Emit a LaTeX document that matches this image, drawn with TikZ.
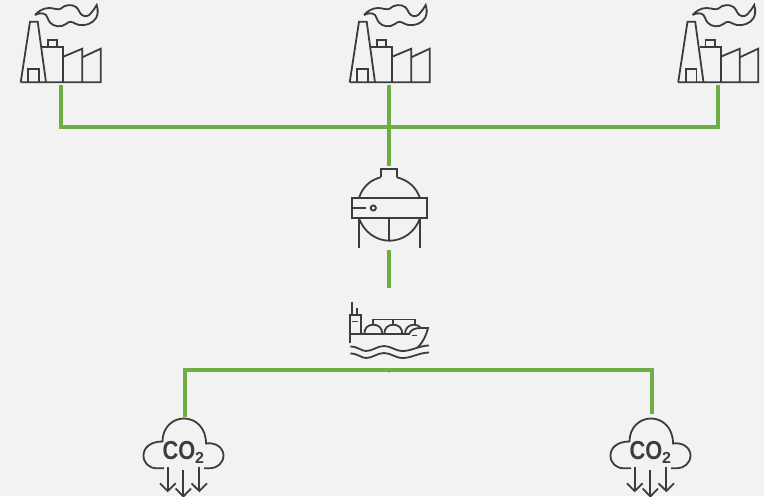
\documentclass[tikz,border=0pt]{standalone}
\usepackage{fontspec}
\setmainfont{Liberation Sans}
\definecolor{bgc}{HTML}{F2F2F2}
\definecolor{ink}{HTML}{3C3C3C}
\definecolor{pipe}{HTML}{6FAE46}
\tikzset{
  x=1pt,y=-1pt,
  icon/.style={draw=ink,line width=1.8pt,line join=miter,fill=none},
  pipeline/.style={draw=pipe,line width=4pt,line join=miter},
  anchorbox/.style={inner sep=0pt,outer sep=0pt,minimum width=80pt},
  factory/.pic={
    \begin{scope}[icon]
    \draw (20.7,82.3) -- (30,21.7) -- (37.7,21.7) -- (46,82.3);
    \draw (28.3,82.3) -- (28.3,69.3) -- (39,69.3) -- (39,82.3);
    \draw (20.7,82.3) -- (100.7,82.3) -- (100.7,48.7) -- (82.3,57.3);
    \draw (42.3,47) -- (63.3,47) -- (63.3,82.3);
    \draw (48,47) -- (48,39.7) -- (57.3,39.7) -- (57.3,47);
    \draw (63.3,56.7) -- (82.3,48.7) -- (82.3,82.3);
    \draw (35,15) .. controls (38,11.5) and (43,8) .. (49,8)
      .. controls (54,8) and (58,10.5) .. (61,8.5)
      .. controls (65,4.5) and (72,4) .. (76,7)
      .. controls (79,9) and (79,13) .. (82,15)
      .. controls (85,17.5) and (89,16) .. (91,13)
      .. controls (93,11) and (95,8) .. (96.7,5)
      .. controls (98.5,11) and (98.5,17) .. (93,21.5)
      .. controls (88,25.5) and (80,26.5) .. (75,23.5)
      .. controls (72,21.5) and (69,21) .. (66,24)
      .. controls (61,27.5) and (54,27) .. (50,22.5)
      .. controls (47.5,19.5) and (48,17) .. (46,15)
      .. controls (43,12.5) and (39,13) .. (35,15);
    \end{scope}
  },
  sphere/.pic={
    \begin{scope}[icon]
    \draw (380.7,177.3) -- (380.7,169) -- (396.7,169) -- (396.7,177.3);
    \draw (359,198) .. controls (362.5,187) and (370,180) .. (380.7,177.3);
    \draw (396.7,177.3) .. controls (408,180) and (416,187) .. (420,198);
    \draw (359,218.3) .. controls (364,232) and (376,240.7) .. (389.5,240.7)
       .. controls (403,240.7) and (415,232) .. (420,218.3);
    \draw (351.7,198) rectangle (427,218.3);
    \draw (351.7,208) -- (365.7,208);
    \draw (373.3,208) circle[radius=2.6];
    \draw (359,218.3) -- (359,248.3);
    \draw (389,218.3) -- (389,240.7);
    \draw (420,218.3) -- (420,248.3);
    \end{scope}
  },
  ship/.pic={
    \begin{scope}[icon]
    \draw (352,301.7) -- (352,315);
    \draw (357.3,308.3) -- (357.3,315);
    \draw (349.7,343.3) -- (349.7,315) -- (360.7,315) -- (360.7,334);
    \draw (352.3,321.5) -- (358,321.5);
    \draw (349.7,334) -- (410,334);
    \draw (364.3,334) .. controls (364.3,328) and (368,324.7) .. (373.3,324.7) .. controls (378.6,324.7) and (382.3,328) .. (382.3,334);
    \draw (384.3,334) .. controls (384.3,328) and (388,324.7) .. (393.3,324.7) .. controls (398.6,324.7) and (402.3,328) .. (402.3,334);
    \draw (405,334) .. controls (405,328) and (409,324.7) .. (414,324.7) .. controls (417,324.7) and (419.5,326) .. (421,328);
    \draw (409,334) .. controls (411,329.5) and (415,328) .. (421,328) -- (428,328)
       .. controls (426,336) and (423,342) .. (417.7,347.5);
    \draw (372.7,324.7) -- (372.7,319.5) -- (415,319.5) -- (415,324.7);
    \draw (393.3,319.5) -- (393.3,324.7);
    \draw (411.5,335.5) -- (417,335.5);
    \draw (350.3,346.5) .. controls (358,346.5) and (361,351) .. (366,351) .. controls (373,351) and (377,346) .. (384,346)
       .. controls (391,346) and (395,351) .. (403,351) .. controls (411,351) and (420,345.5) .. (429,345.5);
    \draw (350.3,353.5) .. controls (358,353.5) and (361,358) .. (366,358) .. controls (373,358) and (377,353) .. (384,353)
       .. controls (391,353) and (395,358) .. (403,358) .. controls (411,358) and (420,352.5) .. (429,352.5);
    \end{scope}
  },
  cloud/.pic={
    \begin{scope}[icon]
    \draw (164,468.3) -- (157,468.3) .. controls (149,468.3) and (143.5,463) .. (143.5,455.5)
      .. controls (143.5,448) and (150,441.5) .. (162.5,441.5)
      .. controls (162.5,427) and (173,418.5) .. (184,418.5)
      .. controls (195,418.5) and (206,427) .. (206,443.5)
      .. controls (216,442) and (223.5,448) .. (223.5,455.5)
      .. controls (223.5,463) and (217,468.3) .. (210,468.3) -- (204,468.3);
    \draw (167.7,466.7) -- (167.7,491);
    \draw (160,483.3) -- (167.7,491) -- (175.7,483.3);
    \draw (183.3,470) -- (183.3,496.5);
    \draw (175.7,488.5) -- (183.3,496.5) -- (191,488.5);
    \draw (199.3,466.7) -- (199.3,491);
    \draw (191.5,483.3) -- (199.3,491) -- (207,483.3);
    \end{scope}
    \node[text=ink,inner sep=0pt,xscale=.84,font=\bfseries] at (179,450.5) {\fontsize{26}{26}\selectfont CO};
    \node[text=ink,inner sep=0pt,font=\bfseries] at (199.5,457.5) {\fontsize{16}{16}\selectfont 2};
  }
}
\begin{document}
\begin{tikzpicture}
\useasboundingbox[fill=bgc] (0,0) rectangle (764,496);
\pic at (0,0) {factory};
\pic at (329,0) {factory};
\pic at (657.5,0) {factory};
\pic at (0,0) {sphere};
\pic at (0,0) {ship};
\pic at (0,0) {cloud};
\pic at (467,0) {cloud};
\node[anchorbox,minimum height=70pt] (f1) at (60.5,50) {};
\node[anchorbox,minimum height=70pt] (f2) at (389,50) {};
\node[anchorbox,minimum height=70pt] (f3) at (717.5,50) {};
\node[anchorbox,minimum height=84pt] (tank) at (389,208) {};
\node[anchorbox,minimum height=80pt] (vessel) at (389,328) {};
\node[anchorbox,minimum height=76pt] (c1) at (184.5,455) {};
\node[anchorbox,minimum height=76pt] (c2) at (652,452) {};
\coordinate (busA) at (389,126.5);
\coordinate (busB) at (389,369.5);
\coordinate (tickEnd) at (389,372.5);
\draw[pipeline] (f1.south) |- (busA) -| (f3.south);
\draw[pipeline] (f2.south) -- (tank.north);
\draw[pipeline] (tank.south) -- (vessel.north);
\draw[pipeline] (c1.north) |- (busB) -| (c2.north);
\draw[draw=pipe,line width=.6pt] (busB) -- (tickEnd);
\end{tikzpicture}
\end{document}
